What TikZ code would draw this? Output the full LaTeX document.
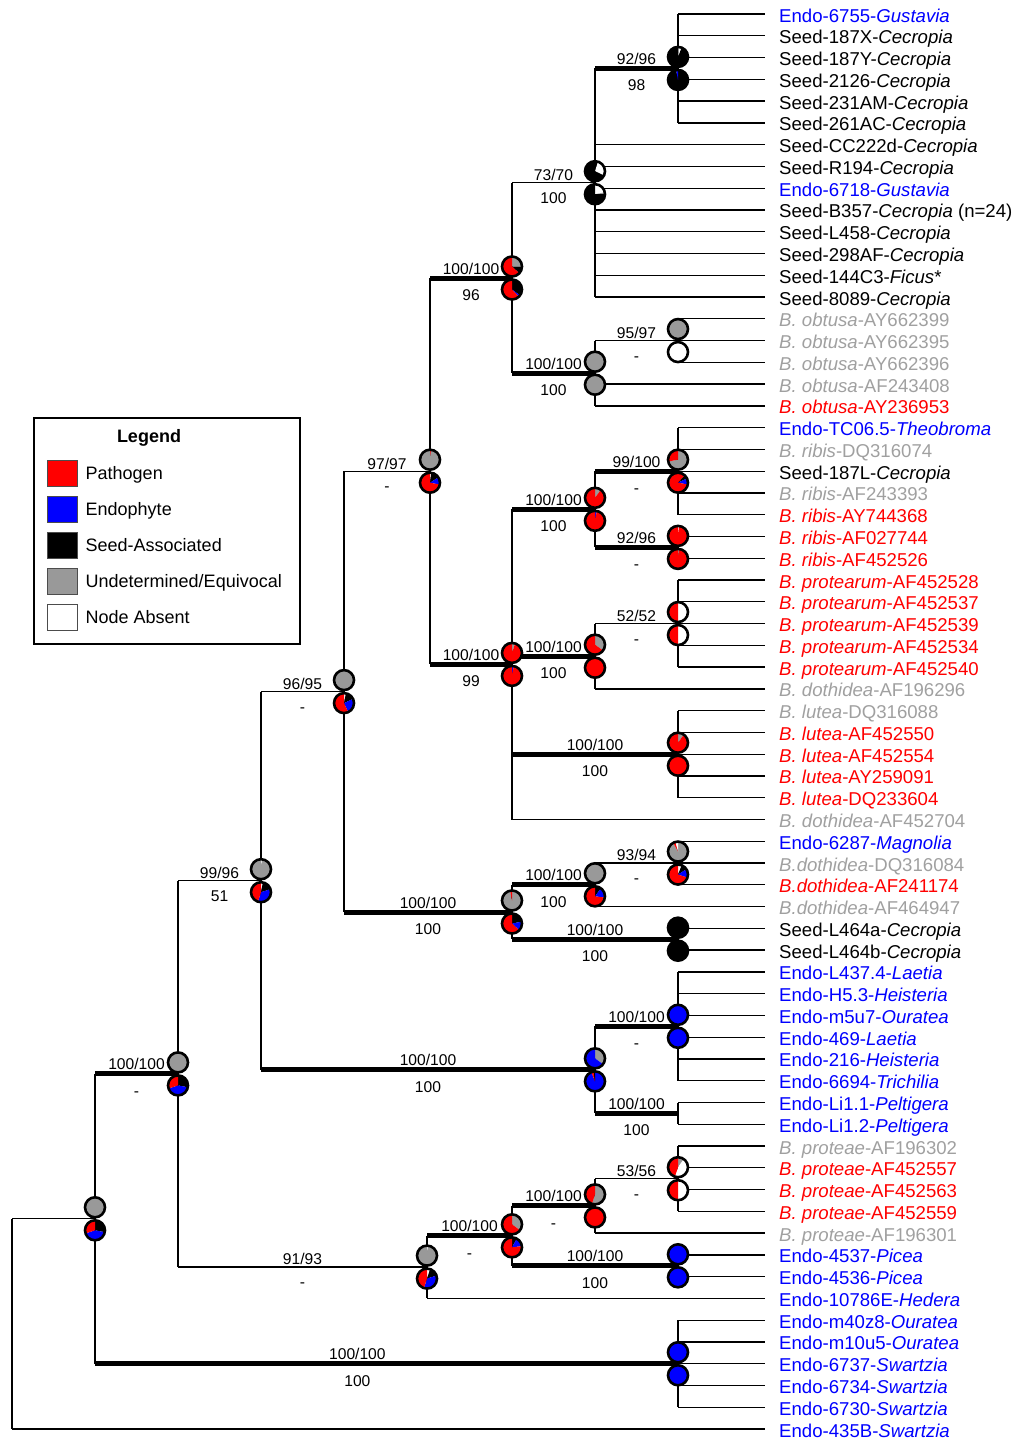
\documentclass[tikz,border=0pt]{standalone}
\usepackage{fontspec}
\setmainfont{Liberation Sans}
\usetikzlibrary{positioning}

\definecolor{pred}{HTML}{FF0000}
\definecolor{pblue}{HTML}{0000FF}
\definecolor{pgray}{HTML}{999999}
\definecolor{lgray}{HTML}{A0A0A0}

\tikzset{
  weak/.style={line width=1.3pt},
  strong/.style={line width=5pt},
  tip/.style={anchor=west, inner xsep=14pt, inner ysep=0pt, text height=13pt, text depth=4pt,
    yshift=-3.5pt, font=\fontsize{18.6}{20}\selectfont},
  bsup/.style={above=0.5pt, inner sep=1pt, text height=11pt, text depth=0pt,
    font=\fontsize{15.6}{17}\selectfont},
  bsdn/.style={below=8pt, inner sep=1pt, text height=11pt, text depth=0pt,
    font=\fontsize{15.6}{17}\selectfont},
  pieedge/.style={line width=2.6pt},
  swatch/.style={draw=black!70, line width=1pt, minimum width=30pt, minimum height=26pt, inner sep=0pt},
  legtxt/.style={inner sep=0pt, text height=13pt, text depth=4pt, yshift=-2pt,
    font=\fontsize{18}{20}\selectfont}
}

% one pie: centre, list colour/fraction (clockwise from 12 o'clock)
\newcommand{\pierad}{10pt}
\newcommand{\pieslice}[2]{%
  \xdef\pieang{90}%
  \foreach \pcol/\pfrac in {#2} {%
    \pgfmathsetmacro\pieend{\pieang-360*\pfrac}%
    \fill[\pcol] (#1) -- ++(\pieang:\pierad) arc[start angle=\pieang, end angle=\pieend, radius=\pierad] -- cycle;%
    \xdef\pieang{\pieend}%
  }%
  \draw[pieedge] (#1) circle[radius=\pierad];%
}
% two pies stacked on a node: upper, lower
\newcommand{\pies}[3]{%
  \coordinate (#1u) at ([yshift=11.5pt]#1);%
  \coordinate (#1d) at ([yshift=-11.5pt]#1);%
  \pieslice{#1u}{#2}%
  \pieslice{#1d}{#3}%
}

\begin{document}
\begin{tikzpicture}[x=1pt, y=-1pt]
  \useasboundingbox (0,0) rectangle (1014,1440);

  % internal nodes (x = column, y = middle of first and last child)
  \coordinate (cec) at (678,68.4);
  \coordinate (seed) at (595,182.7);
  \coordinate (obt) at (678,340.55);
  \coordinate (obtB) at (595,373.2);
  \coordinate (seedobt) at (512,278.0);
  \coordinate (rib) at (678,471.17);
  \coordinate (ribB) at (678,547.4);
  \coordinate (ribA) at (595,509.3);
  \coordinate (prot) at (678,623.56);
  \coordinate (protB) at (595,656.2);
  \coordinate (lut) at (678,754.18);
  \coordinate (dot) at (512,664.4);
  \coordinate (botA) at (430,471.2);
  \coordinate (mag) at (678,863.03);
  \coordinate (magB) at (595,884.8);
  \coordinate (seedL) at (678,939.2);
  \coordinate (magseed) at (512,912.0);
  \coordinate (botB) at (344,691.6);
  \coordinate (endo) at (678,1026.3);
  \coordinate (pelt) at (678,1113.4);
  \coordinate (endoB) at (595,1069.85);
  \coordinate (botC) at (261,880.7);
  \coordinate (protea) at (678,1178.7);
  \coordinate (proteaB) at (595,1205.9);
  \coordinate (picea) at (678,1265.8);
  \coordinate (proteaC) at (512,1235.85);
  \coordinate (hed) at (427,1267.1);
  \coordinate (botD) at (178,1073.9);
  \coordinate (swar) at (678,1363.74);
  \coordinate (botE) at (95,1218.8);
  \coordinate (root) at (12,1324);

  % taxa: index/parent/colour/label, 21.77 apart
  \foreach \i/\p/\c/\txt in {
    1/cec/pblue/{Endo-6755-\textit{Gustavia}},
    2/cec/black/{Seed-187X-\textit{Cecropia}},
    3/cec/black/{Seed-187Y-\textit{Cecropia}},
    4/cec/black/{Seed-2126-\textit{Cecropia}},
    5/cec/black/{Seed-231AM-\textit{Cecropia}},
    6/cec/black/{Seed-261AC-\textit{Cecropia}},
    7/seed/black/{Seed-CC222d-\textit{Cecropia}},
    8/seed/black/{Seed-R194-\textit{Cecropia}},
    9/seed/pblue/{Endo-6718-\textit{Gustavia}},
    10/seed/black/{Seed-B357-\textit{Cecropia} (n=24)},
    11/seed/black/{Seed-L458-\textit{Cecropia}},
    12/seed/black/{Seed-298AF-\textit{Cecropia}},
    13/seed/black/{Seed-144C3-\textit{Ficus}*},
    14/seed/black/{Seed-8089-\textit{Cecropia}},
    15/obt/lgray/{\textit{B. obtusa}-AY662399},
    16/obt/lgray/{\textit{B. obtusa}-AY662395},
    17/obt/lgray/{\textit{B. obtusa}-AY662396},
    18/obtB/lgray/{\textit{B. obtusa}-AF243408},
    19/obtB/pred/{\textit{B. obtusa}-AY236953},
    20/rib/pblue/{Endo-TC06.5-\textit{Theobroma}},
    21/rib/lgray/{\textit{B. ribis}-DQ316074},
    22/rib/black/{Seed-187L-\textit{Cecropia}},
    23/rib/lgray/{\textit{B. ribis}-AF243393},
    24/rib/pred/{\textit{B. ribis}-AY744368},
    25/ribB/pred/{\textit{B. ribis}-AF027744},
    26/ribB/pred/{\textit{B. ribis}-AF452526},
    27/prot/pred/{\textit{B. protearum}-AF452528},
    28/prot/pred/{\textit{B. protearum}-AF452537},
    29/prot/pred/{\textit{B. protearum}-AF452539},
    30/prot/pred/{\textit{B. protearum}-AF452534},
    31/prot/pred/{\textit{B. protearum}-AF452540},
    32/protB/lgray/{\textit{B. dothidea}-AF196296},
    33/lut/lgray/{\textit{B. lutea}-DQ316088},
    34/lut/pred/{\textit{B. lutea}-AF452550},
    35/lut/pred/{\textit{B. lutea}-AF452554},
    36/lut/pred/{\textit{B. lutea}-AY259091},
    37/lut/pred/{\textit{B. lutea}-DQ233604},
    38/dot/lgray/{\textit{B. dothidea}-AF452704},
    39/mag/pblue/{Endo-6287-\textit{Magnolia}},
    40/mag/lgray/{\textit{B.dothidea}-DQ316084},
    41/mag/pred/{\textit{B.dothidea}-AF241174},
    42/magB/lgray/{\textit{B.dothidea}-AF464947},
    43/seedL/black/{Seed-L464a-\textit{Cecropia}},
    44/seedL/black/{Seed-L464b-\textit{Cecropia}},
    45/endo/pblue/{Endo-L437.4-\textit{Laetia}},
    46/endo/pblue/{Endo-H5.3-\textit{Heisteria}},
    47/endo/pblue/{Endo-m5u7-\textit{Ouratea}},
    48/endo/pblue/{Endo-469-\textit{Laetia}},
    49/endo/pblue/{Endo-216-\textit{Heisteria}},
    50/endo/pblue/{Endo-6694-\textit{Trichilia}},
    51/pelt/pblue/{Endo-Li1.1-\textit{Peltigera}},
    52/pelt/pblue/{Endo-Li1.2-\textit{Peltigera}},
    53/protea/lgray/{\textit{B. proteae}-AF196302},
    54/protea/pred/{\textit{B. proteae}-AF452557},
    55/protea/pred/{\textit{B. proteae}-AF452563},
    56/protea/pred/{\textit{B. proteae}-AF452559},
    57/proteaB/lgray/{\textit{B. proteae}-AF196301},
    58/picea/pblue/{Endo-4537-\textit{Picea}},
    59/picea/pblue/{Endo-4536-\textit{Picea}},
    60/hed/pblue/{Endo-10786E-\textit{Hedera}},
    61/swar/pblue/{Endo-m40z8-\textit{Ouratea}},
    62/swar/pblue/{Endo-m10u5-\textit{Ouratea}},
    63/swar/pblue/{Endo-6737-\textit{Swartzia}},
    64/swar/pblue/{Endo-6734-\textit{Swartzia}},
    65/swar/pblue/{Endo-6730-\textit{Swartzia}},
    66/root/pblue/{Endo-435B-\textit{Swartzia}}} {
    \pgfmathsetmacro\yy{14+(\i-1)*21.77}
    \coordinate (t\i) at (765,\yy);
    \node[tip, text=\c] (l\i) at (t\i) {\txt};
    \draw[weak] (\p |- t\i) -- (t\i);
  }

  % vertical bars: node/first child/last child
  \foreach \n/\a/\b in {cec/t1/t6, seed/cec/t14, obt/t15/t17, obtB/obt/t19,
      seedobt/seed/obtB, rib/t20/t24, ribB/t25/t26, ribA/rib/ribB, prot/t27/t31,
      protB/prot/t32, lut/t33/t37, dot/ribA/t38, botA/seedobt/dot, mag/t39/t41,
      magB/mag/t42, seedL/t43/t44, magseed/magB/seedL, botB/botA/magseed,
      endo/t45/t50, pelt/t51/t52, endoB/endo/pelt, botC/botB/endoB,
      protea/t53/t56, proteaB/protea/t57, picea/t58/t59, proteaC/proteaB/picea,
      hed/proteaC/t60, botD/botC/hed, swar/t61/t65, botE/botD/swar, root/botE/t66} {
    \draw[weak] (\n |- \a) -- (\n |- \b);
  }

  % stems with support values
  \draw[strong] (seed |- cec) -- node[bsup]{92/96} node[bsdn]{98} (cec);
  \draw[weak] (seedobt |- seed) -- node[bsup]{73/70} node[bsdn]{100} (seed);
  \draw[weak] (obtB |- obt) -- node[bsup]{95/97} node[bsdn]{-} (obt);
  \draw[strong] (seedobt |- obtB) -- node[bsup]{100/100} node[bsdn]{100} (obtB);
  \draw[strong] (botA |- seedobt) -- node[bsup]{100/100} node[bsdn]{96} (seedobt);
  \draw[strong] (ribA |- rib) -- node[bsup]{99/100} node[bsdn]{-} (rib);
  \draw[strong] (ribA |- ribB) -- node[bsup]{92/96} node[bsdn]{-} (ribB);
  \draw[strong] (dot |- ribA) -- node[bsup]{100/100} node[bsdn]{100} (ribA);
  \draw[weak] (protB |- prot) -- node[bsup]{52/52} node[bsdn]{-} (prot);
  \draw[strong] (dot |- protB) -- node[bsup]{100/100} node[bsdn]{100} (protB);
  \draw[strong] (dot |- lut) -- node[bsup]{100/100} node[bsdn]{100} (lut);
  \draw[strong] (botA |- dot) -- node[bsup]{100/100} node[bsdn]{99} (dot);
  \draw[weak] (botB |- botA) -- node[bsup]{97/97} node[bsdn]{-} (botA);
  \draw[weak] (magB |- mag) -- node[bsup]{93/94} node[bsdn]{-} (mag);
  \draw[strong] (magseed |- magB) -- node[bsup]{100/100} node[bsdn]{100} (magB);
  \draw[strong] (magseed |- seedL) -- node[bsup]{100/100} node[bsdn]{100} (seedL);
  \draw[strong] (botB |- magseed) -- node[bsup]{100/100} node[bsdn]{100} (magseed);
  \draw[weak] (botC |- botB) -- node[bsup]{96/95} node[bsdn]{-} (botB);
  \draw[strong] (endoB |- endo) -- node[bsup]{100/100} node[bsdn]{-} (endo);
  \draw[strong] (endoB |- pelt) -- node[bsup]{100/100} node[bsdn]{100} (pelt);
  \draw[strong] (botC |- endoB) -- node[bsup]{100/100} node[bsdn]{100} (endoB);
  \draw[weak] (botD |- botC) -- node[bsup]{99/96} node[bsdn]{51} (botC);
  \draw[weak] (proteaB |- protea) -- node[bsup]{53/56} node[bsdn]{-} (protea);
  \draw[strong] (proteaC |- proteaB) -- node[bsup]{100/100} node[bsdn]{-} (proteaB);
  \draw[strong] (proteaC |- picea) -- node[bsup]{100/100} node[bsdn]{100} (picea);
  \draw[strong] (hed |- proteaC) -- node[bsup]{100/100} node[bsdn]{-} (proteaC);
  \draw[weak] (botD |- hed) -- node[bsup]{91/93} node[bsdn]{-} (hed);
  \draw[strong] (botE |- botD) -- node[bsup]{100/100} node[bsdn]{-} (botD);
  \draw[strong] (botE |- swar) -- node[pos=0.45, bsup]{100/100} node[pos=0.45, bsdn]{100} (swar);
  \draw[weak] (root |- botE) -- (botE);

  % ancestral states, upper and lower pie
  \pies{cec}{pgray/0.02, white/0.04, black/0.94}{black/0.97, pblue/0.03}
  \pies{seed}{black/0.05, white/0.27, black/0.68}{white/0.22, pgray/0.03, black/0.75}
  \pies{obt}{pgray/1}{white/1}
  \pies{obtB}{pgray/1}{pgray/1}
  \pies{seedobt}{pgray/0.25, black/0.12, pred/0.63}{black/0.35, pblue/0.03, pred/0.62}
  \pies{rib}{pgray/0.72, pred/0.28}{pred/0.12, black/0.06, pblue/0.1, pred/0.72}
  \pies{ribB}{white/0.02, pred/0.98}{pgray/0.02, pred/0.98}
  \pies{ribA}{pgray/0.1, pred/0.9}{pblue/0.03, pred/0.97}
  \pies{prot}{white/0.5, pred/0.5}{white/0.5, pred/0.5}
  \pies{protB}{pgray/0.35, pred/0.65}{pred/1}
  \pies{lut}{pgray/0.1, pred/0.9}{pred/1}
  \pies{dot}{pgray/0.05, pred/0.95}{pblue/0.03, pred/0.97}
  \pies{botA}{pred/0.02, pgray/0.98}{white/0.02, black/0.14, pblue/0.12, pred/0.72}
  \pies{mag}{pgray/0.92, pred/0.04, white/0.04}{white/0.06, black/0.1, pblue/0.14, pred/0.7}
  \pies{magB}{pgray/1}{black/0.1, pblue/0.17, pred/0.73}
  \pies{seedL}{black/1}{black/1}
  \pies{magseed}{pgray/0.97, pred/0.03}{black/0.22, pblue/0.15, pred/0.63}
  \pies{botB}{white/0.01, pgray/0.99}{white/0.03, black/0.15, pblue/0.25, pred/0.57}
  \pies{endo}{pblue/1}{pblue/1}
  \pies{endoB}{pgray/0.35, pblue/0.65}{pblue/0.94, pred/0.04, black/0.02}
  \pies{botC}{white/0.02, pgray/0.98}{white/0.03, black/0.17, pblue/0.35, pred/0.45}
  \pies{protea}{pgray/0.1, white/0.45, pred/0.45}{white/0.5, pred/0.5}
  \pies{proteaB}{pgray/0.55, pred/0.45}{pred/1}
  \pies{picea}{pblue/1}{pblue/1}
  \pies{proteaC}{pgray/0.35, pred/0.65}{black/0.08, pblue/0.15, pred/0.77}
  \pies{hed}{white/0.02, pgray/0.98}{white/0.05, black/0.15, pblue/0.35, pred/0.45}
  \pies{botD}{pgray/1}{black/0.28, pblue/0.42, pred/0.3}
  \pies{swar}{pblue/1}{pblue/1}
  \pies{botE}{pgray/1}{black/0.28, pblue/0.42, pred/0.3}

  % legend
  \node[draw, weak, minimum width=266pt, minimum height=226pt, inner sep=0pt] (legbox) at (167,531) {};
  \node[inner sep=0pt, font=\bfseries\fontsize{18}{20}\selectfont] (legtitle) at (149,438) {Legend};
  \foreach \k/\c/\txt in {0/pred/Pathogen, 1/pblue/Endophyte, 2/black/Seed-Associated,
      3/pgray/{Undetermined/Equivocal}, 4/white/Node Absent} {
    \node[swatch, fill=\c] (sw\k) at (62,{473+36*\k}) {};
    \node[legtxt, right=8pt of sw\k] (lt\k) {\txt};
  }
\end{tikzpicture}
\end{document}
